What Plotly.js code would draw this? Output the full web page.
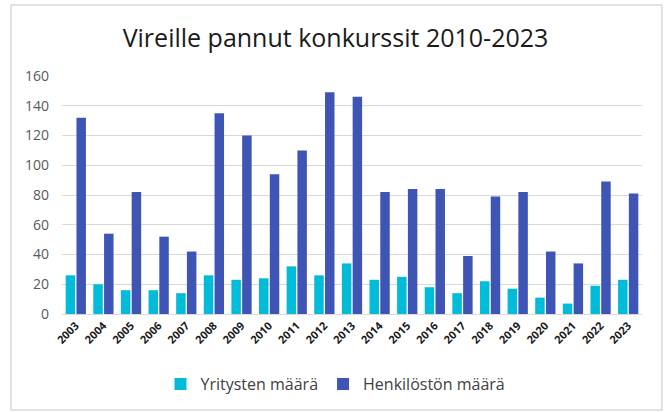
<!DOCTYPE html>
<html>
<head>
<meta charset="utf-8">
<script src="https://cdn.plot.ly/plotly-3.0.1.min.js"></script>
<style>
  html, body { margin: 0; padding: 0; background: #fff; }
  #chart { width: 667px; height: 412px; }
</style>
</head>
<body>
<div id="chart"></div>
<script>
const years = ['2003','2004','2005','2006','2007','2008','2009','2010','2011','2012','2013','2014','2015','2016','2017','2018','2019','2020','2021','2022','2023'];
const yritysten = [26, 20, 16, 16, 14, 26, 23, 24, 32, 26, 34, 23, 25, 18, 14, 22, 17, 11, 7, 19, 23];
const henkiloston = [132, 54, 82, 52, 42, 135, 120, 94, 110, 149, 146, 82, 84, 84, 39, 79, 82, 42, 34, 89, 81];
const seriesNames = ['Yritysten määrä', 'Henkilöstön määrä'];
const yTicks = [0, 20, 40, 60, 80, 100, 120, 140, 160];

const font = 'Open Sans, Noto Sans, sans-serif';

const traces = [
  { type: 'bar', name: seriesNames[0], x: years, y: yritysten, marker: { color: '#00BCD8' }, hoverinfo: 'x+y' },
  { type: 'bar', name: seriesNames[1], x: years, y: henkiloston, marker: { color: '#3F55B6' }, hoverinfo: 'x+y' }
];

const layout = {
  width: 667, height: 412,
  paper_bgcolor: '#fff', plot_bgcolor: '#fff',
  margin: { l: 62, r: 25, t: 76, b: 98 },
  barmode: 'group', bargap: 0.22, bargroupgap: 0.12,
  font: { family: font, color: '#595959' },
  title: { text: 'Vireille pannut konkurssit 2010-2023', font: { family: font, size: 25, color: '#1a1a1a' },
           x: 0.503, xref: 'container', xanchor: 'center', y: 1 - 38/412, yref: 'container', yanchor: 'middle' },
  xaxis: { type: 'category', tickangle: -45, tickfont: { family: font, size: 11, color: '#1a1a1a', weight: 'bold' },
           showgrid: false, showline: true, linecolor: '#d9d9d9', linewidth: 1, ticks: '', fixedrange: true },
  yaxis: { range: [0, 160], tickvals: yTicks, ticktext: yTicks.map(String), tickfont: { family: font, size: 14, color: '#595959' },
           showgrid: true, gridcolor: '#d9d9d9', gridwidth: 1, zeroline: false, showline: false, ticks: '',
           ticklabelstandoff: 12, fixedrange: true },
  legend: { orientation: 'h', xref: 'container', yref: 'container', x: 0.503, xanchor: 'center', y: 1 - 384/412, yanchor: 'middle',
            font: { family: font, size: 16, color: '#404040' }, itemwidth: 30, traceorder: 'normal' },
  shapes: [
    { type: 'rect', xref: 'paper', yref: 'paper',
      x0: (11 - 62) / 580, x1: (662 - 62) / 580, y0: (314 - 410) / 238, y1: (314 - 5) / 238,
      line: { color: '#d9d9d9', width: 1.5 }, fillcolor: 'rgba(0,0,0,0)', layer: 'below' }
  ],
  showlegend: true
};

Plotly.newPlot('chart', traces, layout, { displayModeBar: false, staticPlot: true });
</script>
</body>
</html>
